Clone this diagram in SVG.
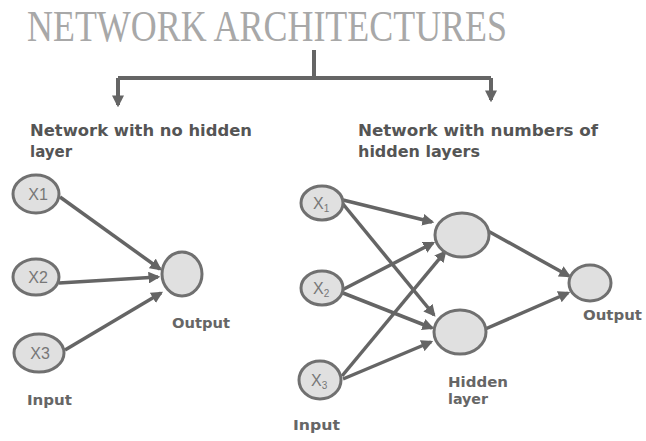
<svg xmlns="http://www.w3.org/2000/svg" width="646" height="441" viewBox="0 0 646 441">
<style>
.title{font-family:"Liberation Serif",serif;font-size:45px;fill:#a8a8a8}
.head{font-family:"DejaVu Sans","Liberation Sans",sans-serif;font-size:15px;font-weight:bold;fill:#555555}
.lbl{font-family:"DejaVu Sans","Liberation Sans",sans-serif;font-size:14px;font-weight:bold;fill:#666666}
.nl{font-family:"Liberation Sans",Arial,sans-serif;font-size:16px;fill:#777777}
.sub{font-size:10px}
.node{fill:#e0e0e0;stroke:#707070;stroke-width:3}
.edge{stroke:#656565;stroke-width:3.5;fill:none;marker-end:url(#ah)}
.br{stroke:#656565;stroke-width:4;fill:none}
</style>
<defs>
<marker id="ah" viewBox="0 0 10 10" refX="8" refY="5" markerWidth="3.4" markerHeight="3.4" orient="auto" markerUnits="strokeWidth">
<path d="M0,0 L10,5 L0,10 z" fill="#656565"/>
</marker>
<marker id="ahb" viewBox="0 0 10 10" refX="8" refY="5" markerWidth="3" markerHeight="3" orient="auto" markerUnits="strokeWidth">
<path d="M0,0 L10,5 L0,10 z" fill="#656565"/>
</marker>
</defs>
<text class="title" x="27" y="41" textLength="480" lengthAdjust="spacingAndGlyphs">NETWORK ARCHITECTURES</text>
<g id="connectors">
<path class="br" d="M314,50 V78 M118,78 H491"/>
<path class="br" d="M118,78 V105" marker-end="url(#ahb)"/>
<path class="br" d="M491,78 V100" marker-end="url(#ahb)"/>
<line class="edge" x1="60" y1="197" x2="160" y2="269"/>
<line class="edge" x1="59" y1="283" x2="158" y2="277"/>
<line class="edge" x1="65" y1="350" x2="161" y2="293"/>
<line class="edge" x1="343" y1="200" x2="432" y2="222"/>
<line class="edge" x1="343" y1="204" x2="434" y2="315"/>
<line class="edge" x1="342" y1="290" x2="433" y2="243"/>
<line class="edge" x1="343" y1="293" x2="432" y2="328"/>
<line class="edge" x1="342" y1="376" x2="445" y2="252"/>
<line class="edge" x1="343" y1="379" x2="431" y2="342"/>
<line class="edge" x1="488" y1="231" x2="569" y2="276"/>
<line class="edge" x1="483" y1="330" x2="568" y2="293"/>
</g>
<text class="head" x="30" y="136" textLength="222" lengthAdjust="spacingAndGlyphs">Network with no hidden</text>
<text class="head" x="30" y="157">layer</text>
<text class="head" x="358" y="136" textLength="240" lengthAdjust="spacingAndGlyphs">Network with numbers of</text>
<text class="head" x="358" y="157" textLength="122" lengthAdjust="spacingAndGlyphs">hidden layers</text>
<g id="l_x1"><ellipse class="node" cx="36" cy="194" rx="23" ry="19"/><text class="nl" x="38" y="200" text-anchor="middle">X1</text></g>
<g id="l_x2"><ellipse class="node" cx="36" cy="277" rx="23" ry="18"/><text class="nl" x="38" y="283" text-anchor="middle">X2</text></g>
<g id="l_x3"><ellipse class="node" cx="39" cy="353" rx="25" ry="19"/><text class="nl" x="40" y="359" text-anchor="middle">X3</text></g>
<g id="l_out"><ellipse class="node" cx="182" cy="274" rx="20" ry="22"/></g>
<text class="lbl" x="172" y="328" textLength="58" lengthAdjust="spacingAndGlyphs">Output</text>
<text class="lbl" x="27" y="405" textLength="45" lengthAdjust="spacingAndGlyphs">Input</text>
<g id="r_x1"><ellipse class="node" cx="322" cy="203" rx="21" ry="17"/><text class="nl" x="313" y="209">X<tspan class="sub" dy="3">1</tspan></text></g>
<g id="r_x2"><ellipse class="node" cx="322" cy="288" rx="21" ry="17"/><text class="nl" x="313" y="294">X<tspan class="sub" dy="3">2</tspan></text></g>
<g id="r_x3"><ellipse class="node" cx="320" cy="380" rx="21" ry="19"/><text class="nl" x="311" y="386">X<tspan class="sub" dy="3">3</tspan></text></g>
<g id="r_h1"><ellipse class="node" cx="462" cy="235" rx="27" ry="22"/></g>
<g id="r_h2"><ellipse class="node" cx="460" cy="332" rx="26" ry="22"/></g>
<g id="r_out"><ellipse class="node" cx="590" cy="283" rx="21" ry="18"/></g>
<text class="lbl" x="583" y="320" textLength="59" lengthAdjust="spacingAndGlyphs">Output</text>
<text class="lbl" x="448" y="387" textLength="60" lengthAdjust="spacingAndGlyphs">Hidden</text>
<text class="lbl" x="448" y="404" textLength="40" lengthAdjust="spacingAndGlyphs">layer</text>
<text class="lbl" x="293" y="430" textLength="47" lengthAdjust="spacingAndGlyphs">Input</text>
</svg>
